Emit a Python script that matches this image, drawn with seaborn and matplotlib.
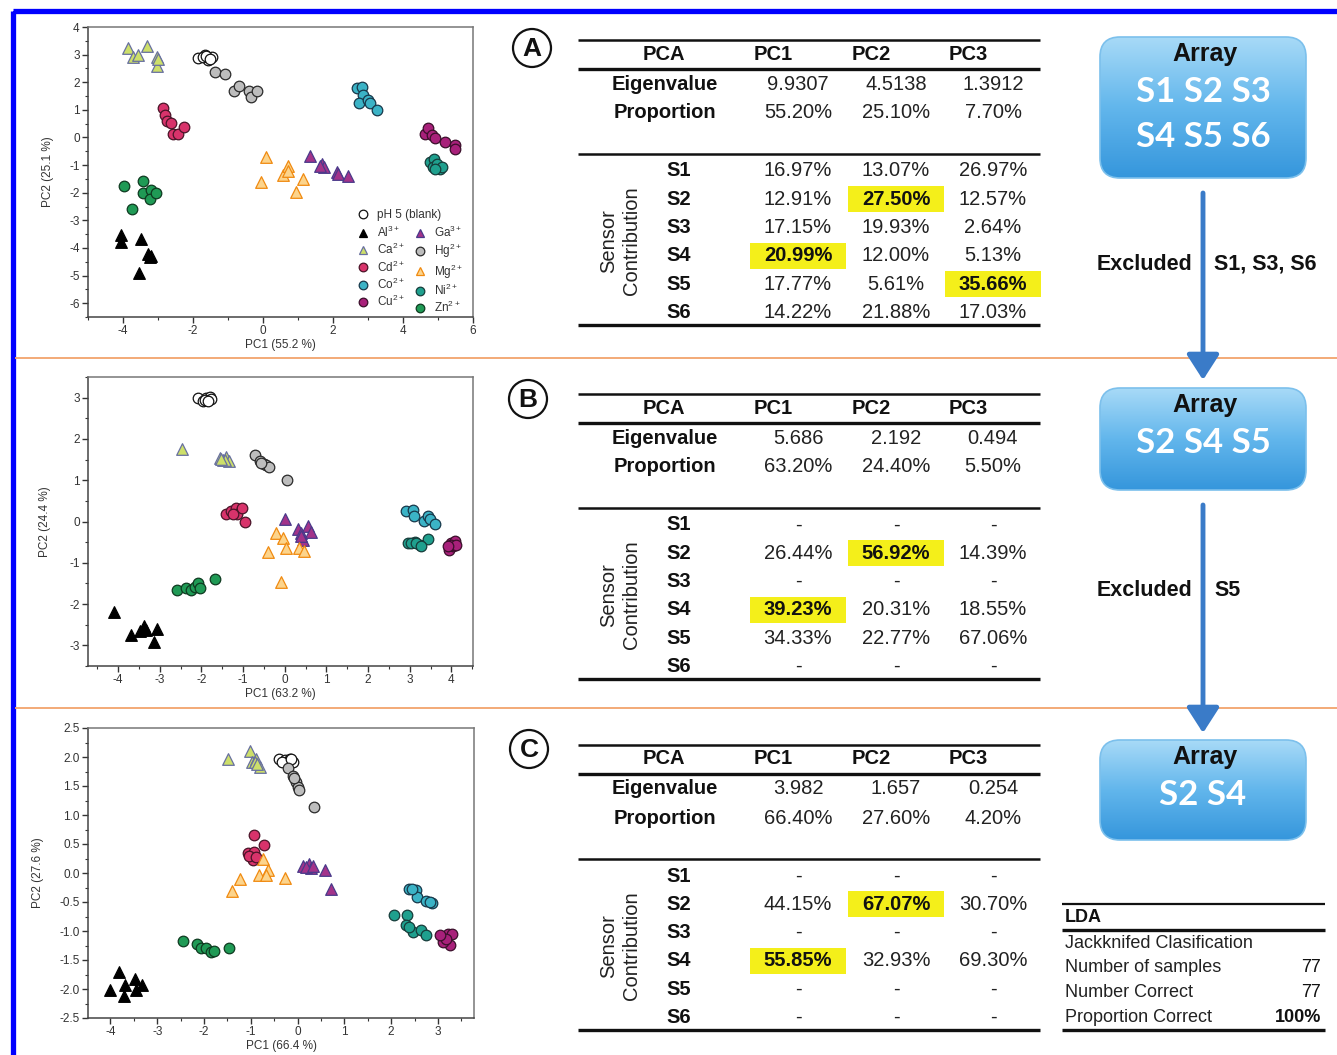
import numpy as np
import pandas as pd
import matplotlib
matplotlib.use("Agg")
import matplotlib.pyplot as plt
import seaborn as sns
from matplotlib.patches import Rectangle, FancyBboxPatch, Circle
from matplotlib.lines import Line2D
from matplotlib.ticker import MultipleLocator

# ---------------------------------------------------------------- data
ion_keys = ["blank", "Al", "Ca", "Cd", "Co", "Cu", "Ga", "Hg", "Mg", "Ni", "Zn"]
ion_labels = ["pH 5 (blank)", "Al$^{3+}$", "Ca$^{2+}$", "Cd$^{2+}$", "Co$^{2+}$",
              "Cu$^{2+}$", "Ga$^{3+}$", "Hg$^{2+}$", "Mg$^{2+}$", "Ni$^{2+}$", "Zn$^{2+}$"]
replicates = 7

# PCA scores, six sensors (7 replicates per analyte, analytes in ion_keys order)
a_pc1 = [-1.85, -1.66, -1.57, -1.47, -1.72, -1.62, -1.52,
         -4.05, -4.05, -3.48, -3.55, -3.28, -3.24, -3.20,
         -3.86, -3.71, -3.57, -3.31, -3.03, -3.03, -3.00,
         -2.85, -2.81, -2.74, -2.62, -2.57, -2.44, -2.26,
         2.68, 2.82, 2.87, 2.73, 3.01, 3.06, 3.27,
         4.64, 4.70, 4.83, 4.92, 5.21, 5.49, 5.49,
         1.34, 1.68, 1.73, 2.11, 2.15, 2.44, 1.63,
         -1.38, -1.09, -0.83, -0.69, -0.40, -0.33, -0.18,
         0.08, -0.06, 0.58, 0.70, 0.72, 0.93, 1.13,
         4.78, 4.89, 4.87, 4.97, 5.06, 5.11, 4.92,
         -3.97, -3.43, -3.43, -3.19, -3.22, -3.05, -3.73]
a_pc2 = [2.88, 3.00, 2.81, 2.90, 2.92, 2.96, 2.85,
         -3.53, -3.80, -3.68, -4.89, -4.22, -4.34, -4.30,
         3.24, 2.91, 2.97, 3.33, 2.91, 2.59, 2.85,
         1.06, 0.80, 0.58, 0.53, 0.13, 0.13, 0.37,
         1.79, 1.82, 1.52, 1.26, 1.34, 1.26, 1.01,
         0.13, 0.34, 0.09, -0.03, -0.15, -0.29, -0.41,
         -0.66, -0.96, -1.08, -1.26, -1.32, -1.38, -1.02,
         2.37, 2.31, 1.70, 1.86, 1.67, 1.46, 1.67,
         -0.72, -1.62, -1.36, -1.04, -1.20, -1.99, -1.50,
         -0.90, -0.78, -1.08, -0.96, -1.14, -1.08, -1.15,
         -1.77, -1.56, -2.01, -1.89, -2.23, -2.01, -2.59]

# PCA scores, sensors S2 S4 S5
b_pc1 = [-2.08, -1.96, -1.88, -1.80, -1.76, -1.92, -1.84,
         -4.10, -3.68, -3.48, -3.38, -3.34, -3.06, -3.14,
         -2.46, -1.56, -1.48, -1.40, -1.34, -1.44, -1.52,
         -1.40, -1.28, -1.16, -1.14, -1.02, -0.96, -1.24,
         2.92, 3.08, 3.10, 3.34, 3.44, 3.48, 3.60,
         3.94, 4.00, 4.08, 4.04, 3.98, 4.12, 3.92,
         0.00, 0.32, 0.38, 0.44, 0.56, 0.64, 0.40,
         -0.72, -0.60, -0.50, -0.44, -0.38, -0.56, 0.06,
         -0.20, -0.04, 0.02, -0.40, 0.34, 0.46, -0.08,
         2.96, 3.12, 3.24, 3.44, 3.04, 3.16, 3.28,
         -2.58, -2.36, -2.26, -2.16, -2.08, -2.04, -1.68]
b_pc2 = [2.98, 2.92, 2.98, 3.02, 2.96, 2.95, 2.93,
         -2.20, -2.76, -2.66, -2.52, -2.62, -2.60, -2.92,
         1.76, 1.54, 1.50, 1.57, 1.46, 1.49, 1.52,
         0.19, 0.25, 0.33, 0.17, 0.33, -0.02, 0.19,
         0.25, 0.28, 0.13, 0.01, 0.13, 0.05, -0.05,
         -0.68, -0.52, -0.48, -0.60, -0.56, -0.56, -0.60,
         0.05, -0.19, -0.29, -0.44, -0.11, -0.26, -0.35,
         1.60, 1.46, 1.40, 1.36, 1.33, 1.41, 1.00,
         -0.27, -0.40, -0.64, -0.73, -0.64, -0.72, -1.46,
         -0.53, -0.50, -0.56, -0.42, -0.52, -0.52, -0.60,
         -1.65, -1.61, -1.65, -1.58, -1.49, -1.61, -1.39]

# PCA scores, sensors S2 S4
c_pc1 = [-0.39, -0.28, -0.17, -0.10, -0.22, -0.33, -0.14,
         -3.81, -4.00, -3.68, -3.70, -3.47, -3.45, -3.32,
         -1.49, -1.01, -0.97, -0.89, -0.92, -0.81, -0.87,
         -0.94, -0.72, -1.06, -0.94, -0.96, -1.03, -0.89,
         2.39, 2.52, 2.55, 2.75, 2.88, 2.45, 2.82,
         3.11, 3.21, 3.31, 3.26, 3.11, 3.18, 3.04,
         0.11, 0.24, 0.29, 0.17, 0.58, 0.72, 0.33,
         -0.21, -0.10, -0.03, 0.01, 0.03, -0.07, 0.34,
         -1.41, -1.24, -0.74, -0.83, -0.64, -0.67, -0.26,
         2.05, 2.34, 2.32, 2.46, 2.64, 2.74, 2.39,
         -2.45, -2.15, -2.06, -1.95, -1.86, -1.78, -1.47]
c_pc2 = [1.97, 1.94, 1.97, 1.91, 1.91, 1.91, 1.97,
         -1.70, -2.01, -1.93, -2.12, -1.83, -2.02, -1.93,
         1.97, 2.11, 1.91, 1.96, 1.91, 1.83, 1.88,
         0.66, 0.48, 0.35, 0.37, 0.23, 0.30, 0.28,
         -0.27, -0.30, -0.41, -0.49, -0.52, -0.28, -0.50,
         -1.10, -1.05, -1.05, -1.24, -1.19, -1.13, -1.07,
         0.12, 0.16, 0.09, 0.10, 0.06, -0.27, 0.12,
         1.81, 1.68, 1.57, 1.48, 1.43, 1.63, 1.14,
         -0.31, -0.10, 0.25, -0.03, 0.06, -0.04, -0.08,
         -0.72, -0.73, -0.90, -1.01, -0.98, -1.07, -0.93,
         -1.17, -1.22, -1.30, -1.29, -1.36, -1.35, -1.30]

pc1_titles = ["PC1 (55.2 %)", "PC1 (63.2 %)", "PC1 (66.4 %)"]
pc2_titles = ["PC2 (25.1 %)", "PC2 (24.4 %)", "PC2 (27.6 %)"]

# PCA summary tables
pca_header = ["PCA", "PC1", "PC2", "PC3"]
sensors = ["S1", "S2", "S3", "S4", "S5", "S6"]
eigen_a = ["9.9307", "4.5138", "1.3912"]
prop_a = ["55.20%", "25.10%", "7.70%"]
contrib_a = [["16.97%", "13.07%", "26.97%"],
             ["12.91%", "27.50%", "12.57%"],
             ["17.15%", "19.93%", "2.64%"],
             ["20.99%", "12.00%", "5.13%"],
             ["17.77%", "5.61%", "35.66%"],
             ["14.22%", "21.88%", "17.03%"]]
marked_a = [(1, 1), (3, 0), (4, 2)]

eigen_b = ["5.686", "2.192", "0.494"]
prop_b = ["63.20%", "24.40%", "5.50%"]
contrib_b = [["-", "-", "-"],
             ["26.44%", "56.92%", "14.39%"],
             ["-", "-", "-"],
             ["39.23%", "20.31%", "18.55%"],
             ["34.33%", "22.77%", "67.06%"],
             ["-", "-", "-"]]
marked_b = [(1, 1), (3, 0)]

eigen_c = ["3.982", "1.657", "0.254"]
prop_c = ["66.40%", "27.60%", "4.20%"]
contrib_c = [["-", "-", "-"],
             ["44.15%", "67.07%", "30.70%"],
             ["-", "-", "-"],
             ["55.85%", "32.93%", "69.30%"],
             ["-", "-", "-"],
             ["-", "-", "-"]]
marked_c = [(1, 1), (3, 0)]

arrays = [["S1 S2 S3", "S4 S5 S6"], ["S2 S4 S5"], ["S2 S4"]]
excluded = ["S1, S3, S6", "S5"]

lda_rows = ["Jackknifed Clasification", "Number of samples", "Number Correct", "Proportion Correct"]
lda_vals = ["", "77", "77", "100%"]

# ---------------------------------------------------------------- style
face = {"blank": "white", "Al": "black", "Ca": "#cddf6a", "Cd": "#d8336b",
        "Co": "#3bb3c6", "Cu": "#a8207a", "Ga": "#a3338a", "Hg": "#bdbdbd",
        "Mg": "#fcd48c", "Ni": "#1fa08e", "Zn": "#1f9a55"}
edge = {"blank": "#111111", "Al": "black", "Ca": "#6870a0", "Cd": "#4a1428",
        "Co": "#17384a", "Cu": "#3a0f2a", "Ga": "#4a3a8a", "Hg": "#2a2a2a",
        "Mg": "#f08a10", "Ni": "#163c3a", "Zn": "#0e3a20"}
marker = {"blank": "o", "Al": "^", "Ca": "^", "Cd": "o", "Co": "o", "Cu": "o",
          "Ga": "^", "Hg": "o", "Mg": "^", "Ni": "o", "Zn": "o"}

sns.set_theme(style="white")
plt.rcParams["font.family"] = ["Liberation Sans", "DejaVu Sans"]
plt.rcParams["mathtext.default"] = "regular"
plt.rcParams["axes.unicode_minus"] = False

W, H = 1337, 1055
fig = plt.figure(figsize=(W / 100, H / 100), dpi=100)
fig.patch.set_facecolor("white")


def axes_px(left, top, right, bottom):
    return fig.add_axes([left / W, 1 - bottom / H, (right - left) / W, (bottom - top) / H])


def score_frame(pc1, pc2):
    return pd.DataFrame({"PC1": pc1, "PC2": pc2,
                         "ion": np.repeat(ion_keys, replicates)})


def score_plot(ax, df, xlim, ylim, xmaj, xmin, ymaj, ymin, xlabel, ylabel, yfmt):
    for key in ion_keys:
        sub = df[df["ion"] == key]
        sns.scatterplot(data=sub, x="PC1", y="PC2", ax=ax, marker=marker[key],
                        color=face[key], edgecolor=edge[key], linewidth=0.9,
                        s=70 if marker[key] == "^" else 58, legend=False, zorder=3)
    ax.set_xlim(*xlim)
    ax.set_ylim(*ylim)
    ax.xaxis.set_major_locator(MultipleLocator(xmaj))
    ax.xaxis.set_minor_locator(MultipleLocator(xmin))
    ax.yaxis.set_major_locator(MultipleLocator(ymaj))
    ax.yaxis.set_minor_locator(MultipleLocator(ymin))
    ax.yaxis.set_major_formatter(plt.FormatStrFormatter(yfmt))
    ax.tick_params(axis="both", which="major", direction="out", length=4, width=1,
                   labelsize=8.5, colors="#333333", pad=2, bottom=True, left=True)
    ax.tick_params(axis="both", which="minor", direction="out", length=2.5, width=0.8,
                   colors="#333333", bottom=True, left=True)
    ax.set_xlabel(xlabel, fontsize=8.5, color="#333333", labelpad=1)
    ax.set_ylabel(ylabel, fontsize=8.5, color="#333333", labelpad=11)
    for side, sp in ax.spines.items():
        sp.set_visible(True)
        sp.set_linewidth(1.1)
        sp.set_color("#444444" if side in ("left", "bottom") else "#777777")
    ax.set_facecolor("white")


ax_a = axes_px(88, 27, 473, 317)
score_plot(ax_a, score_frame(a_pc1, a_pc2), (-5, 6), (-6.5, 4), 2, 1, 1, 0.5,
           pc1_titles[0], pc2_titles[0], "%d")
ax_b = axes_px(88, 377, 473, 666)
score_plot(ax_b, score_frame(b_pc1, b_pc2), (-4.72, 4.52), (-3.5, 3.5), 1, 0.5, 1, 0.5,
           pc1_titles[1], pc2_titles[1], "%d")
ax_c = axes_px(88, 728, 474, 1018)
score_plot(ax_c, score_frame(c_pc1, c_pc2), (-4.48, 3.77), (-2.5, 2.5), 1, 0.5, 0.5, 0.25,
           pc1_titles[2], pc2_titles[2], "%.1f")
ax_b.set_ylabel(pc2_titles[1], fontsize=8.5, color="#333333", labelpad=13)

# legend of panel A: blank on its own line, ions in two columns below it
handles = {k: Line2D([], [], linestyle="none", marker=marker[k], markersize=6.2,
                     markerfacecolor=face[k], markeredgecolor=edge[k], markeredgewidth=0.9)
           for k in ion_keys}
leg_kw = dict(frameon=False, fontsize=8.5, handlelength=1.0, handletextpad=0.7,
              borderpad=0, borderaxespad=0, labelspacing=0.18, labelcolor="#333333")
order = [1, 2, 3, 4, 5, 6, 7, 8, 9, 10]
leg_ions = ax_a.legend([handles[ion_keys[i]] for i in order], [ion_labels[i] for i in order],
                       ncol=2, columnspacing=0.75, loc="upper left",
                       bbox_to_anchor=(0.699, 0.318), **leg_kw)
ax_a.add_artist(leg_ions)
ax_a.legend([handles["blank"]], [ion_labels[0]], loc="upper left",
            bbox_to_anchor=(0.699, 0.371), **leg_kw)

# ---------------------------------------------------------------- overlay (pixel coordinates)
ov = fig.add_axes([0, 0, 1, 1], zorder=5)
ov.patch.set_alpha(0)
ov.axis("off")

# frame and panel separators
ov.add_patch(Rectangle((12.5, 10.5), W + 20, H + 20, fill=False, edgecolor="#0000ff", lw=3.8))
for ysep in (358, 708):
    ov.plot([15, W], [ysep, ysep], color="#f2a46c", lw=1.3, solid_capstyle="butt")

TF = 14.5


def pca_table(top, eig, prop, contrib, marked):
    x0, x1 = 578, 1040
    col_hdr = [664, 773, 871, 968]
    col_val = [798, 896, 993]
    ov.plot([x0, x1], [top, top], color="#111111", lw=1.8, solid_capstyle="butt")
    ov.plot([x0, x1], [top + 29, top + 29], color="#111111", lw=2.4, solid_capstyle="butt")
    ov.plot([x0, x1], [top + 114, top + 114], color="#111111", lw=1.8, solid_capstyle="butt")
    ov.plot([x0, x1], [top + 285, top + 285], color="#111111", lw=2.4, solid_capstyle="butt")
    for x, t in zip(col_hdr, pca_header):
        ov.text(x, top + 14, t, ha="center", va="center", fontsize=TF, fontweight="bold", color="#111111")
    ov.text(665, top + 44, "Eigenvalue", ha="center", va="center", fontsize=TF, fontweight="bold", color="#111111")
    ov.text(665, top + 73, "Proportion", ha="center", va="center", fontsize=TF, fontweight="bold", color="#111111")
    for x, e, p in zip(col_val, eig, prop):
        ov.text(x, top + 44, e, ha="center", va="center", fontsize=TF, color="#222222")
        ov.text(x, top + 73, p, ha="center", va="center", fontsize=TF, color="#222222")
    ov.text(620, top + 201, "Sensor\nContribution", rotation=90, ha="center", va="center",
            fontsize=TF, color="#222222", linespacing=1.2, multialignment="center")
    for r, (s, row) in enumerate(zip(sensors, contrib)):
        y = top + 131 + 28.3 * r
        ov.text(666, y, s, ha="left", va="center", fontsize=TF, fontweight="bold", color="#111111")
        for c, v in enumerate(row):
            hl = (r, c) in marked
            if hl:
                ov.add_patch(Rectangle((col_val[c] - 48, y - 13), 96, 26, facecolor="#f4ef1a",
                                       edgecolor="none", zorder=1))
            ov.text(col_val[c], y, v, ha="center", va="center", fontsize=TF, zorder=2,
                    fontweight="bold" if hl else "normal", color="#111111" if hl else "#222222")


pca_table(40, eigen_a, prop_a, contrib_a, marked_a)
pca_table(394, eigen_b, prop_b, contrib_b, marked_b)
pca_table(745, eigen_c, prop_c, contrib_c, marked_c)

# circled panel letters
for (cx, cy), letter in zip([(532, 48), (528, 399), (529, 749)], "ABC"):
    ov.add_patch(Circle((cx, cy), 19, fill=False, edgecolor="#111111", lw=1.6))
    ov.text(cx, cy + 1, letter, ha="center", va="center", fontsize=19, fontweight="bold", color="#111111")

# sensor array boxes with vertical gradient
grad = np.linspace(0, 1, 256).reshape(-1, 1)
cmap = matplotlib.colors.LinearSegmentedColormap.from_list("boxgrad", ["#a8daf7", "#62b6ec", "#3596dc"])
boxes = [(1100, 37, 1306, 178), (1100, 388, 1306, 490), (1100, 740, 1306, 840)]
for (x0, y0, x1, y1), lines in zip(boxes, arrays):
    patch = FancyBboxPatch((x0, y0), x1 - x0, y1 - y0, boxstyle="round,pad=0,rounding_size=20",
                           facecolor="none", edgecolor="#7cc0ec", lw=1.2, zorder=3)
    ov.add_patch(patch)
    im = ov.imshow(grad, extent=(x0, x1, y1, y0), cmap=cmap, aspect="auto", origin="upper", zorder=2)
    im.set_clip_path(patch)
    ov.text((x0 + x1) / 2 + 2, y0 + 17, "Array", ha="center", va="center", fontsize=18,
            fontweight="bold", color="#111111", zorder=4)
    for i, t in enumerate(lines):
        ov.text((x0 + x1) / 2, y0 + 55 + 45 * i, t, ha="center", va="center", fontsize=25,
                fontweight="bold", color="white", family=["Lato", "DejaVu Sans"], zorder=4)

# arrows between arrays
for ys, ye, yt, ex in [(193, 380, 264, excluded[0]), (505, 733, 591, excluded[1])]:
    ov.annotate("", xy=(1203, ye), xytext=(1203, ys),
                arrowprops=dict(arrowstyle="-|>,head_length=0.7,head_width=0.45",
                                color="#3a7bc8", lw=3.5, mutation_scale=22, shrinkA=0, shrinkB=0))
    ov.text(1192, yt, "Excluded", ha="right", va="center", fontsize=15.5, fontweight="bold", color="#111111")
    ov.text(1214, yt, ex, ha="left", va="center", fontsize=15.5, fontweight="bold", color="#111111")

# LDA summary
ov.plot([1062, 1325], [904, 904], color="#111111", lw=1.6, solid_capstyle="butt")
ov.plot([1062, 1325], [930, 930], color="#111111", lw=2.4, solid_capstyle="butt")
ov.plot([1062, 1325], [1030, 1030], color="#111111", lw=2.4, solid_capstyle="butt")
ov.text(1065, 917, "LDA", ha="left", va="center", fontsize=13, fontweight="bold", color="#111111")
for i, (lab, val) in enumerate(zip(lda_rows, lda_vals)):
    y = 943 + 24.7 * i
    ov.text(1065, y, lab, ha="left", va="center", fontsize=13, color="#222222")
    ov.text(1321, y, val, ha="right", va="center", fontsize=13, color="#111111",
            fontweight="bold" if val.endswith("%") else "normal")

ov.set_xlim(0, W)
ov.set_ylim(H, 0)

fig.savefig("out.png", dpi=100, facecolor="white")
